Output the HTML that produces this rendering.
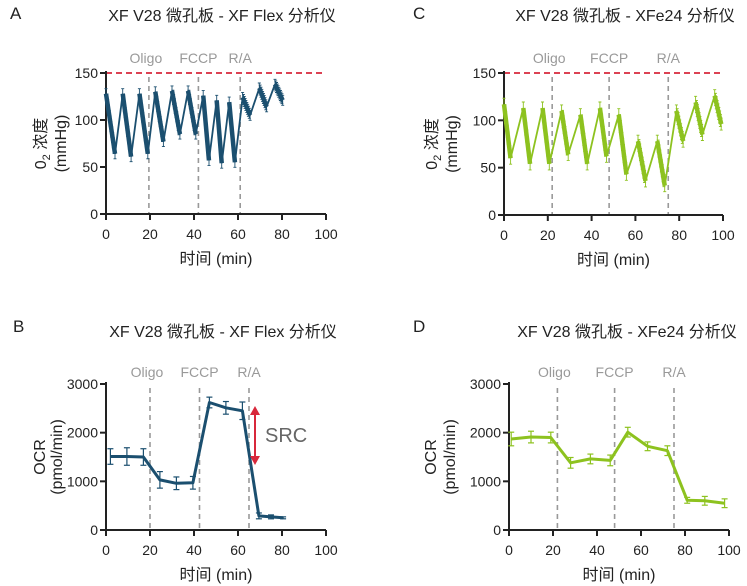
<!DOCTYPE html>
<html><head><meta charset="utf-8"><style>
html,body{margin:0;padding:0;background:#fff;}
svg{display:block;font-family:"Liberation Sans","Noto Sans CJK SC",sans-serif;}
</style></head><body>
<svg id="s" width="747" height="586" viewBox="0 0 747 586" xmlns="http://www.w3.org/2000/svg"></svg>
<script>
const S=document.getElementById('s');let h='';
const BLUE='#1b4f6f',GREEN='#8dc21f';
function T(x,y,t,o){o=o||{};h+=`<text x="${x}" y="${y}" font-size="${o.fs||13}" fill="${o.c||'#222'}" text-anchor="${o.a||'middle'}"${o.tr?` transform="${o.tr}"`:''}>${t}</text>`;}
function L(x1,y1,x2,y2,c,w,d){h+=`<line x1="${x1}" y1="${y1}" x2="${x2}" y2="${y2}" stroke="${c}" stroke-width="${w}"${d?` stroke-dasharray="${d}"`:''}/>`;}
function panel(p){
 const X=v=>p.x0+(p.x1-p.x0)*v/100, Y=v=>p.y0-(p.y0-p.yt)*v/p.ymax;
 T(p.lx,p.ly,p.letter,{fs:17,a:'start'});
 T(p.tx,p.ty,p.title,{fs:16});
 p.inj.forEach((v,i)=>{L(X(v),p.yt+4,X(v),p.y0,'#999',1.6,'5,4');T(X(v)+[-3,0,0][i],p.yt-p.lo,['Oligo','FCCP','R/A'][i],{fs:14,c:'#999'});});
 if(p.red)L(X(0),Y(150),X(100),Y(150),'#d8283b',1.8,'6,4');
 L(p.x0,p.yt-2,p.x0,p.y0,'#222',2);L(p.x0,p.y0,X(100),p.y0,'#222',2);
 p.yt_ticks.forEach(v=>{L(p.x0-6,Y(v),p.x0,Y(v),'#222',2);T(p.x0-8,Y(v)+5,v,{fs:14,a:'end'});});
 [0,20,40,60,80,100].forEach(v=>{L(X(v),p.y0,X(v),p.y0+6,'#222',2);T(X(v),p.y0+25,v,{fs:14});});
 T((p.x0+X(100))/2,p.y0+50,'时间 (min)',{fs:16});
 const cy=(p.yt+p.y0)/2;
 p.ylab.forEach((t,i)=>T(p.ylx+i*p.ls,cy,t,{fs:16,tr:`rotate(-90 ${p.ylx+i*p.ls} ${cy})`}));
 if(p.saw){
  const v=p.saw;
  for(let i=0;i<v.length-1;i++){
   const [ax,ay]=v[i],[bx,by]=v[i+1];
   if(by<ay){
     let d='';const n=Math.max(8,Math.round((X(bx)-X(ax))/0.8));
     for(let k=0;k<=n;k++){const t=k/n,xx=X(ax+(bx-ax)*t),yy=Y(ay+(by-ay)*t);const e=p.err;
       d+=`M${xx.toFixed(1)} ${(yy-e).toFixed(1)}V${(yy+e).toFixed(1)}M${(xx-1.5).toFixed(1)} ${(yy-e).toFixed(1)}h3M${(xx-1.5).toFixed(1)} ${(yy+e).toFixed(1)}h3`;}
     h+=`<path d="${d}" stroke="${p.c}" stroke-width="0.9" fill="none"/>`;
     L(X(ax),Y(ay),X(bx),Y(by),p.c,4.5);
   } else L(X(ax),Y(ay),X(bx),Y(by),p.c,1.8);
  }
 }
 if(p.pts){
  h+=`<polyline points="${p.pts.map(q=>X(q[0]).toFixed(1)+','+Y(q[1]).toFixed(1)).join(' ')}" fill="none" stroke="${p.c}" stroke-width="3" stroke-linejoin="round"/>`;
  p.pts.forEach(q=>{const x=X(q[0]),a=Y(q[1]-q[2]),b=Y(q[1]+q[2]);L(x,a,x,b,p.c,1.2);L(x-3,a,x+3,a,p.c,1.2);L(x-3,b,x+3,b,p.c,1.2);});
 }
}
const tA='XF V28 微孔板 - XF Flex 分析仪',tC='XF V28 微孔板 - XFe24 分析仪';
const o2=['0<tspan font-size="11" dy="4">2</tspan><tspan dy="-4"> 浓度</tspan>','(mmHg)'];
const ocr=['OCR','(pmol/min)'];
function mk(pk,tr){const r=[];pk.forEach((p,i)=>{r.push(p,tr[i]);});return r;}
const sawA=mk([[0,128],[7.6,128],[15.2,128],[22.4,130],[30,131],[37.3,131],[44.2,126],[50.3,121],[56,119],[62.1,124],[69.7,134],[76.8,138]],
 [[4.1,64],[11.4,61],[19,64],[26.1,77],[33.6,85],[40.8,85],[46.8,57],[52.6,54],[58.6,55],[65.5,105],[73,114],[80.3,121]]);
const sawC=mk([[0,117],[8.8,113],[17.6,113],[26.3,110],[34.9,106],[43.8,113],[52.4,106],[61.2,78],[70,78],[78.7,110],[87.5,119],[96.2,126]],
 [[3,60],[11.9,54],[20.7,54],[29.3,64],[38,54],[46.8,62],[55.9,43],[64.6,36],[73.4,31],[81.8,78],[90.6,85],[99.2,96]]);
panel({letter:'A',lx:10,ly:19,title:tA,tx:222,ty:21,x0:106,x1:326,y0:214,yt:73,ymax:150,inj:[19.5,42,61],lo:10,red:1,yt_ticks:[0,50,100,150],ylab:o2,ylx:46,ls:20,saw:sawA,c:BLUE,err:5});
panel({letter:'C',lx:413,ly:19,title:tC,tx:625,ty:21,x0:504,x1:723,y0:215,yt:73,ymax:150,inj:[22,48,75],lo:10,red:1,yt_ticks:[0,50,100,150],ylab:o2,ylx:437,ls:20,saw:sawC,c:GREEN,err:6});
panel({letter:'B',lx:13,ly:332,title:tA,tx:223,ty:337,x0:106,x1:326,y0:530,yt:384,ymax:3000,inj:[20,42.5,65],lo:7,yt_ticks:[0,1000,2000,3000],ylab:ocr,ylx:45,ls:17,c:BLUE,
 pts:[[2,1510,160],[9.5,1510,180],[17,1500,170],[24.5,1030,170],[32,960,130],[39.5,970,130],[47,2620,110],[54.5,2510,130],[62,2450,180],[69.5,290,60],[75,270,40],[80.5,250,20]]});
panel({letter:'D',lx:413,ly:332,title:tC,tx:627,ty:337,x0:509,x1:729,y0:530,yt:384,ymax:3000,inj:[22,48,75],lo:7,yt_ticks:[0,1000,2000,3000],ylab:ocr,ylx:436,ls:19,c:GREEN,
 pts:[[1,1870,140],[10,1910,120],[19,1900,110],[28,1380,110],[37,1460,100],[46,1430,110],[54,2010,100],[63,1720,90],[72,1630,100],[81,610,60],[89,600,90],[98,550,90]]});
h+=`<line x1="255" y1="414" x2="255" y2="457" stroke="#d8283b" stroke-width="2"/><path d="M250 415 L255 406 L260 415Z M250 456 L255 465 L260 456Z" fill="#d8283b"/>`;
T(265,442,'SRC',{fs:20,c:'#666',a:'start'});
S.innerHTML=h;
</script>
</body></html>
